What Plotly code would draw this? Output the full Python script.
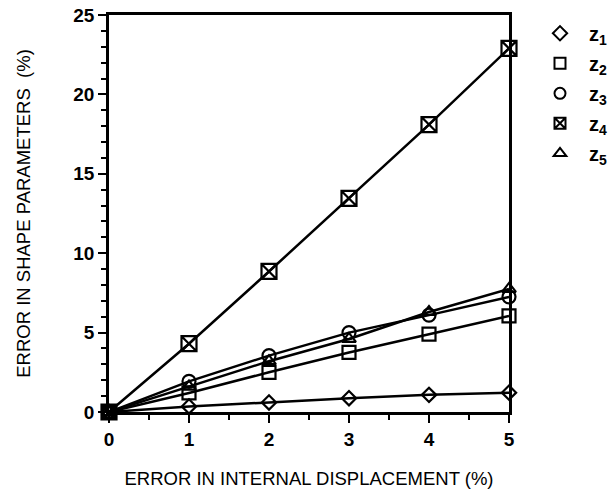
import plotly.graph_objects as go

x_vals = [0, 1, 2, 3, 4, 5]
z1 = [0, 0.35, 0.6, 0.87, 1.08, 1.22]
z2 = [0, 1.2, 2.5, 3.75, 4.9, 6.05]
z3 = [0, 1.93, 3.55, 5.0, 6.1, 7.25]
z4 = [0, 4.3, 8.85, 13.45, 18.1, 22.9]
z5 = [0, 1.6, 3.2, 4.6, 6.3, 7.75]

names = ["\u2009z<sub>1</sub>", "\u2009z<sub>2</sub>", "\u2009z<sub>3</sub>",
         "\u2009z<sub>4</sub>", "\u2009z<sub>5</sub>"]
series = [z1, z2, z3, z4, z5]
symbols = ["diamond-open", "square-open", "circle-open", "square-x-open", "triangle-up-open"]
sizes = [11, 13, 13, 15, 12]

fig = go.Figure()
for name, ys, sym, sz in zip(names, series, symbols, sizes):
    fig.add_trace(go.Scatter(
        x=x_vals, y=ys, name=name, mode="lines+markers", showlegend=False,
        line=dict(color="black", width=2.5),
        marker=dict(symbol=sym, size=sz, color="black",
                    line=dict(color="black", width=2.2)),
        cliponaxis=False,
    ))
# legend-only entries (markers only, as in the reference)
for i, (name, sym) in enumerate(zip(names, symbols)):
    fig.add_trace(go.Scatter(
        x=[None], y=[None], name=name, mode="markers", legendgroup=str(i),
        marker=dict(symbol=sym, size=11, color="black",
                    line=dict(color="black", width=2)),
    ))

tick_font = dict(family="Arial, Liberation Sans, sans-serif", size=19, color="black", weight="bold")
title_font = dict(family="Arial, Liberation Sans, sans-serif", size=18.5, color="black")
fig.update_layout(
    width=611, height=493,
    margin=dict(l=109, r=102, t=15, b=81, autoexpand=False),
    paper_bgcolor="white", plot_bgcolor="white",
    font=dict(family="Arial, Liberation Sans, sans-serif", color="black"),
    showlegend=True,
    legend=dict(x=1.065, y=1.003, xanchor="left", yanchor="top",
                font=dict(size=20, color="black", weight="bold"),
                bgcolor="rgba(0,0,0,0)", itemwidth=40, tracegroupgap=1),
    xaxis=dict(range=[0, 5], tickvals=[0, 1, 2, 3, 4, 5], ticks="outside",
               ticklen=8, tickwidth=2, tickcolor="black", automargin=False,
               minor=dict(dtick=0.5, ticks="outside", ticklen=5, tickwidth=1.5, tickcolor="black"),
               showline=True, linewidth=2.5, linecolor="black", mirror=True,
               showgrid=False, zeroline=False, tickfont=tick_font,
               title=dict(text="ERROR IN INTERNAL DISPLACEMENT (%)",
                          font=title_font, standoff=24)),
    yaxis=dict(range=[0, 25], tickvals=[0, 5, 10, 15, 20, 25], ticks="outside",
               ticklen=8, tickwidth=2, tickcolor="black", automargin=False,
               minor=dict(dtick=1, ticks="outside", ticklen=5, tickwidth=1.5, tickcolor="black"),
               showline=True, linewidth=2.5, linecolor="black", mirror=True,
               showgrid=False, zeroline=False, tickfont=tick_font,
               title=dict(text="ERROR IN SHAPE PARAMETERS  (%)",
                          font=title_font, standoff=38)),
)

fig.write_html("out.html", config={"displayModeBar": False},
               post_script="document.body.style.margin='0px';document.body.style.overflow='hidden';")
